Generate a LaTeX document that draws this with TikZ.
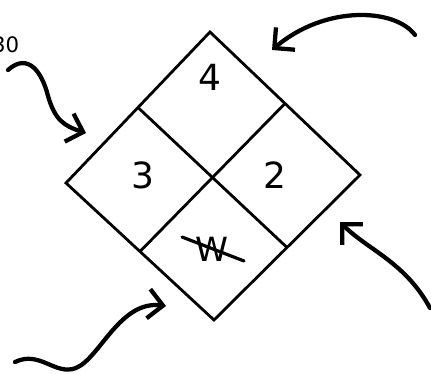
\documentclass[tikz,border=0pt]{standalone}
\usepackage{fontspec}
\setsansfont{DejaVu Sans}
\usetikzlibrary{arrows.meta,calc}

\tikzset{
    edge/.style={line width=2.1pt, line join=miter},
    handarrow/.style={line width=3.2pt, line cap=round,
        -{Straight Barb[length=11pt,width=22pt,line width=3.2pt]}},
    digit/.style={font=\sffamily\fontsize{27}{30}\selectfont},
}

\begin{document}
\begin{tikzpicture}[x=0.75pt, y=-0.75pt]
    \useasboundingbox (0,0) rectangle (431,374);

    % corners of the diamond
    \coordinate (T) at (210,32);
    \coordinate (L) at (66,183);
    \coordinate (R) at (360,175);
    \coordinate (B) at (214,320);

    \draw[edge] (T) -- (R) -- (B) -- (L) -- cycle;
    \draw[edge] ($(T)!0.5!(L)$) -- ($(R)!0.5!(B)$);
    \draw[edge] ($(T)!0.5!(R)$) -- ($(L)!0.5!(B)$);

    \node[digit] (health)   at (210,77)  {4};
    \node[digit] (fire)     at (143,175) {3};
    \node[digit] (react)    at (275,175) {2};
    \node[font=\sffamily\fontsize{25}{28}\selectfont] (special) at (212,249) {W};
    \coordinate (s1) at (182,237);
    \coordinate (s2) at (244,261);
    \draw[line width=2.4pt, line cap=round] (s1) -- (s2);

    % label cut at the left edge
    \node[font=\sffamily\fontsize{16}{18}\selectfont, anchor=east] (lbl) at (24,45) {30};

    % hand-drawn arrows
    \coordinate (a1) at (8,70);
    \coordinate (t1) at (86,133);
    \draw[handarrow] (a1) .. controls (28,52) and (42,72) .. (48,96)
        .. controls (55,120) and (64,126) .. (t1);

    \coordinate (a2) at (415,35);
    \coordinate (t2) at (272,50);
    \draw[handarrow] (a2) .. controls (395,8) and (325,5) .. (t2);

    \coordinate (a3) at (15,362);
    \coordinate (t3) at (166,306);
    \draw[handarrow] (a3) .. controls (40,350) and (55,376) .. (76,368)
        .. controls (100,358) and (120,300) .. (t3);

    \coordinate (a4) at (430,308);
    \coordinate (t4) at (340,222);
    \draw[handarrow] (a4) .. controls (405,262) and (368,250) .. (t4);
\end{tikzpicture}
\end{document}
